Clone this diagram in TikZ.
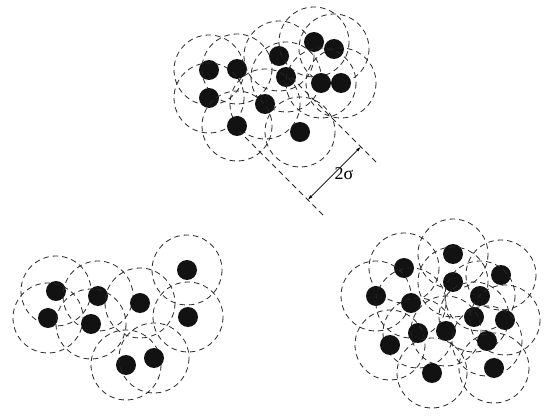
\documentclass[tikz,border=0pt]{standalone}
\usepackage{fontspec}
\newfontfamily\labelfont{Liberation Serif}
\usetikzlibrary{calc,arrows.meta}
\begin{document}
\begin{tikzpicture}[x=1pt,y=-1pt,
  dot/.style={circle,fill=black!93,inner sep=0pt,minimum size=20pt},
  halo/.style={draw=black!85,line width=0.8pt,dash pattern=on 5.5pt off 4pt},
  extline/.style={draw=black!85,line width=0.8pt,dash pattern=on 5.5pt off 4pt},
  dimarrow/.style={draw=black,line width=0.6pt,{Latex[length=5pt,width=3pt]}-{Latex[length=5pt,width=3pt]}}]
\useasboundingbox (0,0) rectangle (544,417);
% top cluster
\foreach \n/\x/\y in {t1/209/70,t2/237/69,t3/209/98,t4/279/56,t5/314/42,t6/334/49,t7/286/77,t8/321/83,t9/341/83,t10/265/104,t11/237/126,t12/300/132,
% bottom-left cluster
l1/56/291,l2/48/318,l3/98/296,l4/91/324,l5/140/303,l6/187/270,l7/188/317,l8/126/365,l9/154/358,
% bottom-right cluster
r1/453/254,r2/404/268,r3/501/275,r4/376/296,r5/453/282,r6/411/303,r7/480/296,r8/474/317,r9/505/320,r10/418/333,r11/446/331,r12/487/341,r13/390/345,r14/432/373,r15/494/368}
{
  \coordinate (c\n) at (\x,\y);
  \draw[halo] (c\n) circle[radius=35];
  \node[dot] (\n) at (c\n) {};
}
% dimension 2 sigma on the circle of t10
\coordinate (ta) at ($(ct10)+(135:37.5)$);
\coordinate (tb) at ($(ct10)+(-45:37.5)$);
\coordinate (pa) at ($(ta)+(45:98)$);
\coordinate (pb) at ($(tb)+(45:98)$);
\coordinate (ea) at ($(pa)+(45:22)$);
\coordinate (eb) at ($(pb)+(45:22)$);
\draw[extline] (ta) -- (ea);
\draw[extline] (tb) -- (eb);
\draw[dimarrow] (pa) -- (pb);
\node[font=\labelfont\fontsize{18}{20}\selectfont,inner sep=0pt] (sig) at (344,174) {2σ};
\end{tikzpicture}
\end{document}
